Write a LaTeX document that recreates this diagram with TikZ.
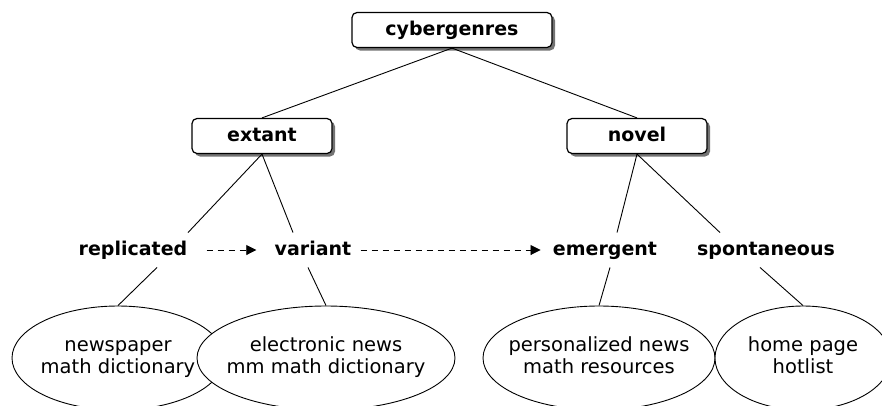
\documentclass[tikz,border=0pt]{standalone}
\usepackage{fontspec}
\setmainfont{DejaVu Sans}
\usetikzlibrary{arrows.meta,shapes.geometric,shadows}

\newcommand{\twolines}[2]{\makebox[0pt]{\begin{tabular}{@{}c@{}}#1\\#2\end{tabular}}}

\begin{document}
\begin{tikzpicture}[x=1pt,y=-1pt,line width=0.9pt,
  genre node/.style={draw,fill=white,rounded corners=5pt,line width=1.2pt,
    font=\fontsize{19}{22}\selectfont\bfseries,text height=14pt,text depth=4pt,minimum height=35pt,
    drop shadow={shadow xshift=3pt,shadow yshift=-3pt,fill=black!55,opacity=1}},
  kind node/.style={font=\fontsize{19}{22}\selectfont\bfseries,text height=14pt,text depth=4pt,
    inner xsep=0pt,minimum height=34pt},
  example node/.style={ellipse,draw,fill=white,inner sep=0pt,font=\fontsize{19.5}{22}\selectfont,
    minimum height=104pt},
  flow/.style={-{Triangle[length=10pt,width=10pt]},dash pattern=on 6pt off 5pt}]

  \useasboundingbox (0,0) rectangle (882,405);

  % genres
  \node[genre node,minimum width=200pt] (cyber) at (452,30) {cybergenres};
  \node[genre node,minimum width=140pt] (extant) at (262,136) {extant};
  \node[genre node,minimum width=140pt] (novel) at (637,136) {novel};

  % kinds
  \node[kind node] (repl) at (133,250) {replicated};
  \node[kind node] (variant) at (313,250) {variant};
  \node[kind node] (emergent) at (605,250) {emergent};
  \node[kind node] (spont) at (766,250) {spontaneous};

  % examples
  \node[example node,minimum width=212pt] (ex1) at (118,358) {\twolines{newspaper}{math dictionary}};
  \node[example node,minimum width=258pt] (ex2) at (326,358) {\twolines{electronic news}{mm math dictionary}};
  \node[example node,minimum width=232pt] (ex3) at (599,358) {\twolines{personalized news}{math resources}};
  \node[example node,minimum width=176pt] (ex4) at (803,358) {\twolines{home page}{hotlist}};

  \path
    (cyber.south) edge (extant.north)
                  edge (novel.north)
    (extant.south) edge ([xshift=55pt]repl.north)
                   edge ([xshift=-20pt]variant.north)
    (novel.south) edge ([xshift=12pt]emergent.north)
                  edge ([xshift=-46pt]spont.north)
    ([xshift=24pt]repl.south) edge (ex1.north)
    ([xshift=-5pt]variant.south) edge (ex2.north)
    ([xshift=5pt]emergent.south) edge (ex3.north)
    ([xshift=-6pt]spont.south) edge (ex4.north);

  \path
    (repl) edge[flow,shorten <=19pt,shorten >=18pt] (variant)
    (variant) edge[flow,shorten <=9pt,shorten >=12pt] (emergent);
\end{tikzpicture}
\end{document}
